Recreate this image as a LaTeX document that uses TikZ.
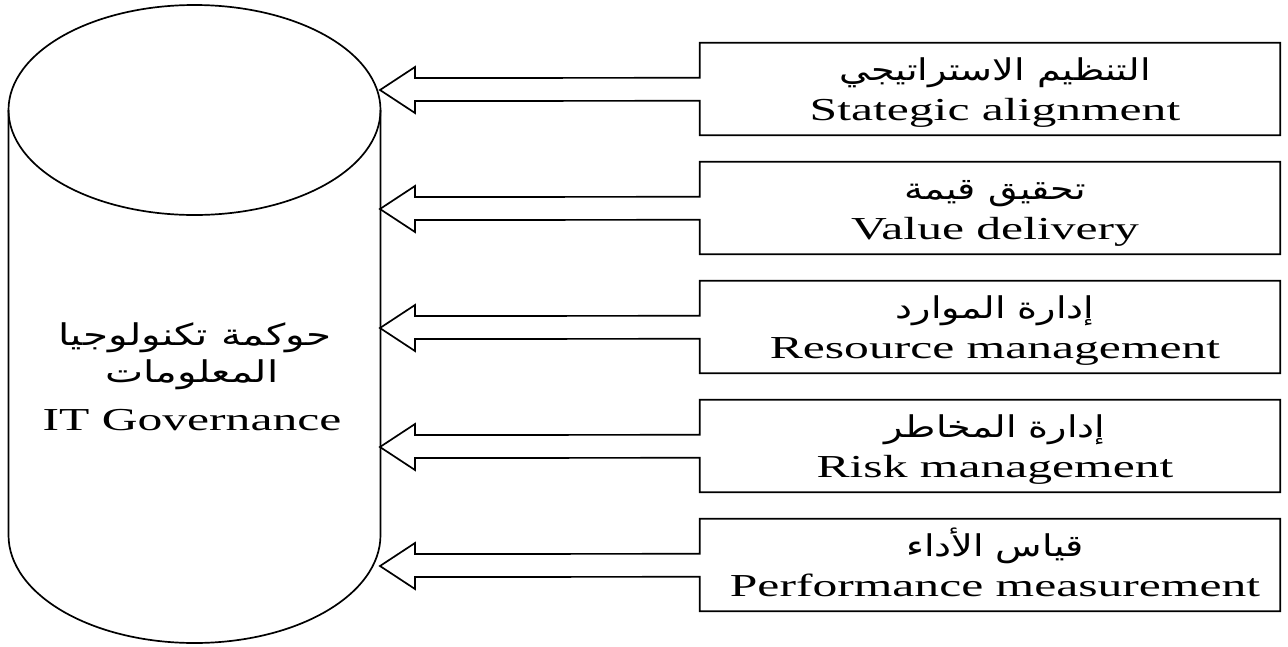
\documentclass[tikz,border=0pt]{standalone}
\usepackage{fontspec}
\setmainfont{Liberation Serif}[FakeStretch=1.55]
\newfontfamily\arabicfont[Script=Arabic,FakeStretch=1.27]{DejaVu Sans}
\newfontfamily\arabicwide[Script=Arabic,FakeStretch=1.35]{DejaVu Sans}
\TeXXeTstate=1
\usetikzlibrary{calc}
\begin{document}
\begin{tikzpicture}[x=1pt,y=-1pt,
  outline/.style={draw=black,line width=1.7pt,line join=miter},
  slot/.style={minimum width=580pt,minimum height=92pt,inner sep=0pt},
  entxt/.style={anchor=base,inner sep=0pt,font=\fontsize{32}{38}\selectfont},
  artxt/.style={anchor=base,inner sep=0pt,font=\arabicfont\fontsize{30}{36}\selectfont},
  arwide/.style={anchor=base,inner sep=0pt,font=\arabicwide\fontsize{30}{36}\selectfont}]
\useasboundingbox (0,0) rectangle (1288,646);

% governance cylinder
\draw[outline] (194.5,110) ellipse [x radius=186, y radius=105];
\draw[outline] (8.5,110) -- (8.5,535) arc[start angle=180,end angle=0,x radius=186,y radius=108] -- (380.5,110);
\node[inner sep=0pt,minimum width=372pt,minimum height=425pt] (gov) at (194.5,322) {};
\node[arwide] (gova) at (195,345) {\beginR حوكمة تكنولوجيا\endR};
\node[arwide] (govb) at (192,382) {\beginR المعلومات\endR};
\node[entxt] (gove) at (192,430) {IT Governance};

% one panel: box merged with a block arrow pointing at the cylinder
\foreach \i/\T/\ar/\en in {
  1/43/{التنظيم الاستراتيجي}/{Stategic alignment},
  2/162/{تحقيق قيمة}/{Value delivery},
  3/281/{إدارة الموارد}/{Resource management},
  4/400/{إدارة المخاطر}/{Risk management},
  5/519/{قياس الأداء}/{Performance measurement}}{
  \node[slot] (box\i) at (990,\T+46) {};
  \coordinate (tip\i) at (380,\T+47);
  \draw[outline]
    (box\i.north west) -- (box\i.north east) -- (box\i.south east) -- (box\i.south west)
    -- ($(box\i.north west)+(0,58)$) -- (415,\T+58) -- (415,\T+70) -- (tip\i)
    -- (415,\T+24) -- (415,\T+35) -- ($(box\i.north west)+(0,35)$) -- cycle;
  \node[artxt] (ar\i) at (995,\T+37) {\beginR\ar\endR};
  \node[entxt] (en\i) at (995,\T+77) {\en};
}
\end{tikzpicture}
\end{document}
